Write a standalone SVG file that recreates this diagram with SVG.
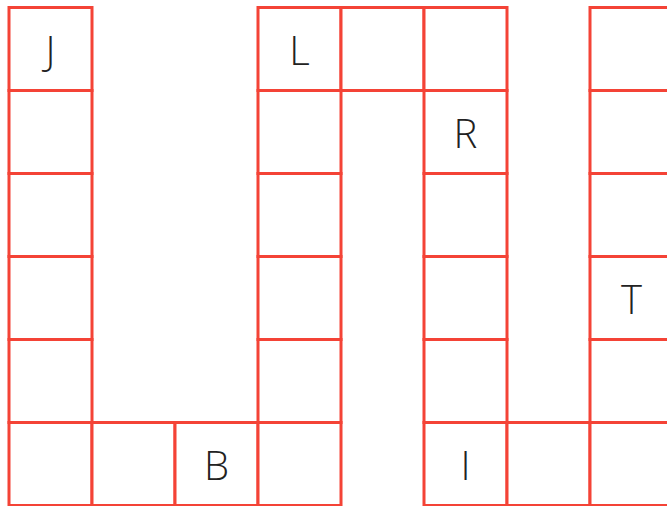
<svg xmlns="http://www.w3.org/2000/svg" width="667" height="506" viewBox="0 0 667 506">
<style>
.c{fill:#fff;stroke:#f44336;stroke-width:3}
.t{font-family:"Open Sans","Noto Sans",sans-serif;font-weight:300;font-size:40px;fill:#222;text-anchor:middle}
</style>
<rect width="667" height="506" fill="#fff"/>
<g id="col0">
<g id="J"><rect class="c" x="9" y="7.5" width="83" height="83"/><text class="t" x="50.5" y="65">J</text></g>
<rect class="c" x="9" y="90.5" width="83" height="83"/>
<rect class="c" x="9" y="173.5" width="83" height="83"/>
<rect class="c" x="9" y="256.5" width="83" height="83"/>
<rect class="c" x="9" y="339.5" width="83" height="83"/>
<rect class="c" x="9" y="422.5" width="83" height="83"/>
</g>
<g id="col1"><rect class="c" x="92" y="422.5" width="83" height="83"/></g>
<g id="B"><rect class="c" x="175" y="422.5" width="83" height="83"/><text class="t" x="216.5" y="480">B</text></g>
<g id="col3">
<g id="L"><rect class="c" x="258" y="7.5" width="83" height="83"/><text class="t" x="299.5" y="65">L</text></g>
<rect class="c" x="258" y="90.5" width="83" height="83"/>
<rect class="c" x="258" y="173.5" width="83" height="83"/>
<rect class="c" x="258" y="256.5" width="83" height="83"/>
<rect class="c" x="258" y="339.5" width="83" height="83"/>
<rect class="c" x="258" y="422.5" width="83" height="83"/>
</g>
<g id="col4"><rect class="c" x="341" y="7.5" width="83" height="83"/></g>
<g id="col5">
<rect class="c" x="424" y="7.5" width="83" height="83"/>
<g id="R"><rect class="c" x="424" y="90.5" width="83" height="83"/><text class="t" x="465.5" y="148">R</text></g>
<rect class="c" x="424" y="173.5" width="83" height="83"/>
<rect class="c" x="424" y="256.5" width="83" height="83"/>
<rect class="c" x="424" y="339.5" width="83" height="83"/>
<g id="I"><rect class="c" x="424" y="422.5" width="83" height="83"/><text class="t" x="465.5" y="480">I</text></g>
</g>
<g id="col6"><rect class="c" x="507" y="422.5" width="83" height="83"/></g>
<g id="col7">
<rect class="c" x="590" y="7.5" width="83" height="83"/>
<rect class="c" x="590" y="90.5" width="83" height="83"/>
<rect class="c" x="590" y="173.5" width="83" height="83"/>
<g id="T"><rect class="c" x="590" y="256.5" width="83" height="83"/><text class="t" x="631.5" y="314">T</text></g>
<rect class="c" x="590" y="339.5" width="83" height="83"/>
<rect class="c" x="590" y="422.5" width="83" height="83"/>
</g>
<g id="connectors"/>
</svg>
